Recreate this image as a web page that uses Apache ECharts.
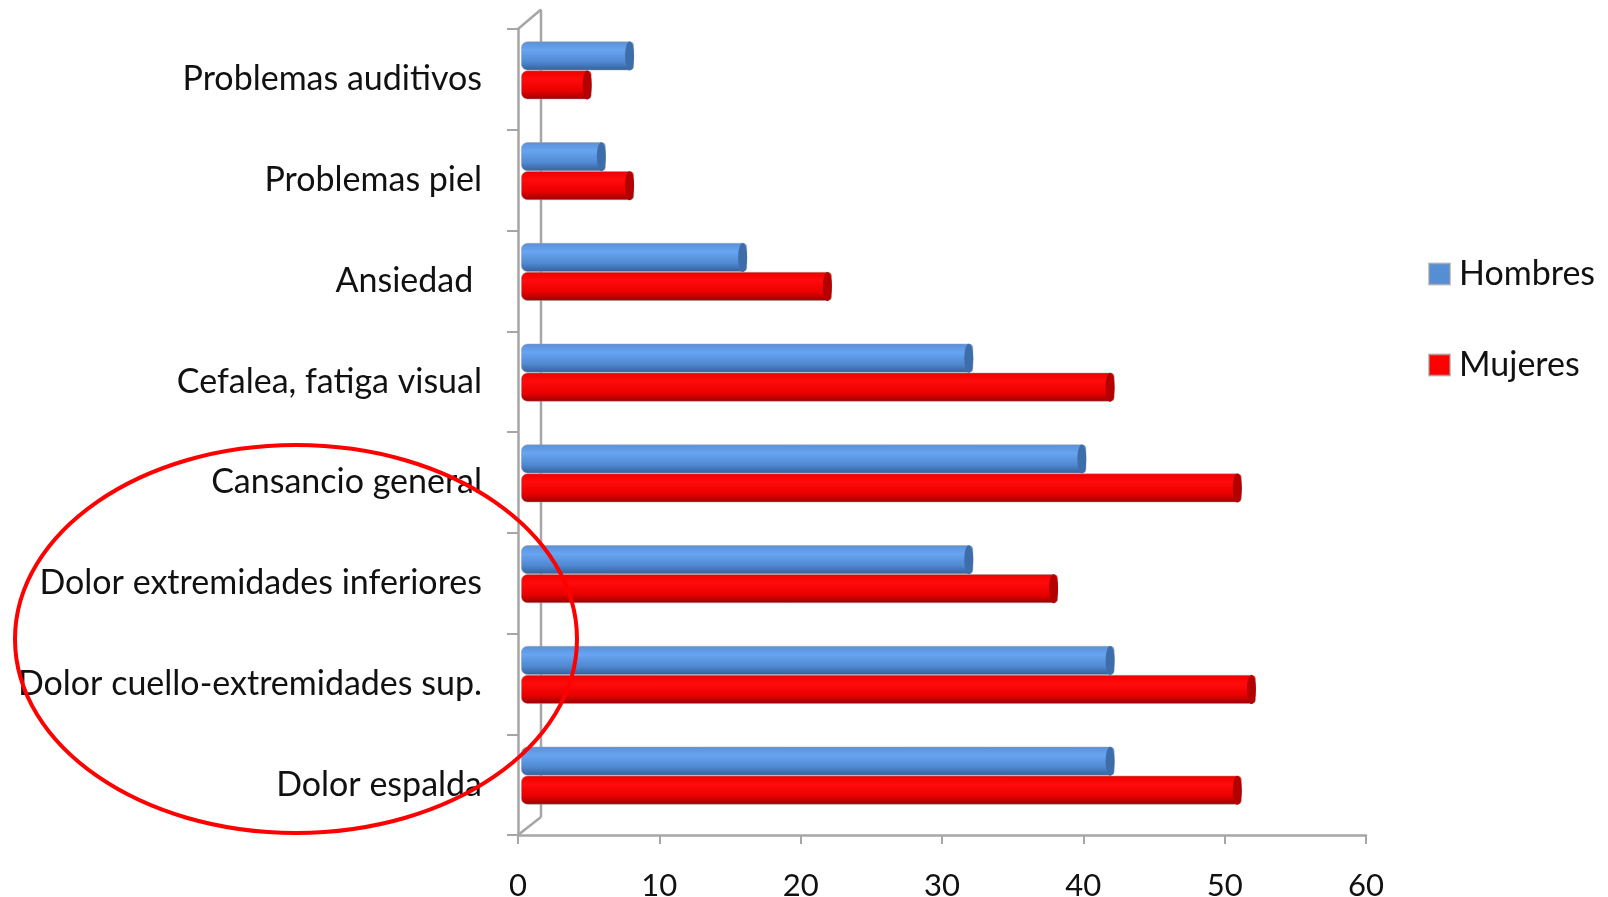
<!DOCTYPE html>
<html>
<head>
<meta charset="utf-8">
<script src="https://cdn.jsdelivr.net/npm/echarts@6/dist/echarts.min.js"></script>
<style>
html,body{margin:0;padding:0;background:#fff;}
#c{width:1608px;height:897px;}
</style>
</head>
<body>
<div id="c"></div>
<script>
var categories = ['Problemas auditivos','Problemas piel','Ansiedad ','Cefalea, fatiga visual','Cansancio general','Dolor extremidades inferiores','Dolor cuello-extremidades sup.','Dolor espalda'];
var hombres = [8, 6, 16, 32, 40, 32, 42, 42];
var mujeres = [5, 8, 22, 42, 51, 38, 52, 51];
var xTicks = {min: 0, max: 60, interval: 10};

var FONT = 'Lato';
var chart = echarts.init(document.getElementById('c'), null, {renderer: 'canvas'});

function grad(stops) {
  return new echarts.graphic.LinearGradient(0, 0, 0, 1, stops.map(function (s) { return {offset: s[0], color: s[1]}; }));
}
var blueGrad = grad([[0, '#5a8fd8'], [0.3, '#67a4f1'], [0.7, '#5189d2'], [1, '#33609a']]);
var redGrad = grad([[0, '#ee0000'], [0.3, '#ff0b0b'], [0.7, '#ea0000'], [1, '#990000']]);

function capData(vals) { return vals.map(function (v, i) { return [v, i]; }); }

var gray = '#a6a6a6';
var option = {
  backgroundColor: '#ffffff',
  animation: false,
  legend: {
    orient: 'vertical',
    left: 1423, top: 252,
    icon: 'rect', itemWidth: 21, itemHeight: 21, itemGap: 57,
    textStyle: {fontFamily: FONT, fontSize: 34, color: '#111', lineHeight: 34, padding: [0, 0, 0, 4]},
    data: [
      {name: 'Hombres', itemStyle: {color: '#558ed5'}},
      {name: 'Mujeres', itemStyle: {color: '#ff0000'}}
    ]
  },
  grid: [
    {left: 521, right: 239, top: 20, bottom: 71, containLabel: false, outerBoundsMode: 'none'},
    {left: 518, right: 242, top: 29, bottom: 62, containLabel: false, outerBoundsMode: 'none'}
  ],
  xAxis: [
    {gridIndex: 0, type: 'value', min: xTicks.min, max: xTicks.max, interval: xTicks.interval, show: false},
    {gridIndex: 1, type: 'value', min: xTicks.min, max: xTicks.max, interval: xTicks.interval,
      axisLine: {show: true, lineStyle: {color: gray, width: 2.5}},
      axisTick: {show: true, length: 9, lineStyle: {color: gray, width: 2}},
      splitLine: {show: false},
      axisLabel: {margin: 35, fontFamily: FONT, fontSize: 31, color: '#111'}
    }
  ],
  yAxis: [
    {gridIndex: 0, type: 'category', data: categories, inverse: true, show: false},
    {gridIndex: 1, type: 'category', data: categories, inverse: true,
      axisLine: {show: true, lineStyle: {color: gray, width: 2.5}},
      axisTick: {show: true, length: 11, lineStyle: {color: gray, width: 2}},
      axisLabel: {margin: 36, fontFamily: FONT, fontSize: 34, color: '#111'}
    }
  ],
  series: [
    {name: 'Hombres', type: 'bar', xAxisIndex: 0, yAxisIndex: 0, data: hombres,
      barWidth: 29, barGap: '0%',
      itemStyle: {color: blueGrad, borderRadius: [6, 4, 4, 6], borderColor: 'rgba(160,160,160,0.6)', borderWidth: 0.8}},
    {name: 'Mujeres', type: 'bar', xAxisIndex: 0, yAxisIndex: 0, data: mujeres,
      barWidth: 29, barGap: '0%',
      itemStyle: {color: redGrad, borderRadius: [6, 4, 4, 6], borderColor: 'rgba(160,160,160,0.6)', borderWidth: 0.8}},
    {name: 'capH', type: 'scatter', xAxisIndex: 0, yAxisIndex: 0, data: capData(hombres),
      symbol: 'circle', symbolSize: [9, 29], symbolOffset: [-4.5, -14.5], z: 5,
      itemStyle: {color: '#3e6ea9', opacity: 1}},
    {name: 'capM', type: 'scatter', xAxisIndex: 0, yAxisIndex: 0, data: capData(mujeres),
      symbol: 'circle', symbolSize: [9, 29], symbolOffset: [-4.5, 14.5], z: 5,
      itemStyle: {color: '#b30000', opacity: 1}}
  ],
  graphic: [
    {type: 'line', shape: {x1: 541, y1: 9.5, x2: 541, y2: 817}, style: {stroke: gray, lineWidth: 2.5}, z: 0},
    {type: 'line', shape: {x1: 518, y1: 29, x2: 541, y2: 9.5}, style: {stroke: gray, lineWidth: 2.5}, z: 0},
    {type: 'line', shape: {x1: 518, y1: 835, x2: 541, y2: 817}, style: {stroke: gray, lineWidth: 2.5}, z: 0},
    {type: 'ellipse', shape: {cx: 296, cy: 639, rx: 281, ry: 194}, style: {fill: null, stroke: '#ff0000', lineWidth: 4}, z: 100}
  ]
};
chart.setOption(option);
</script>
</body>
</html>
